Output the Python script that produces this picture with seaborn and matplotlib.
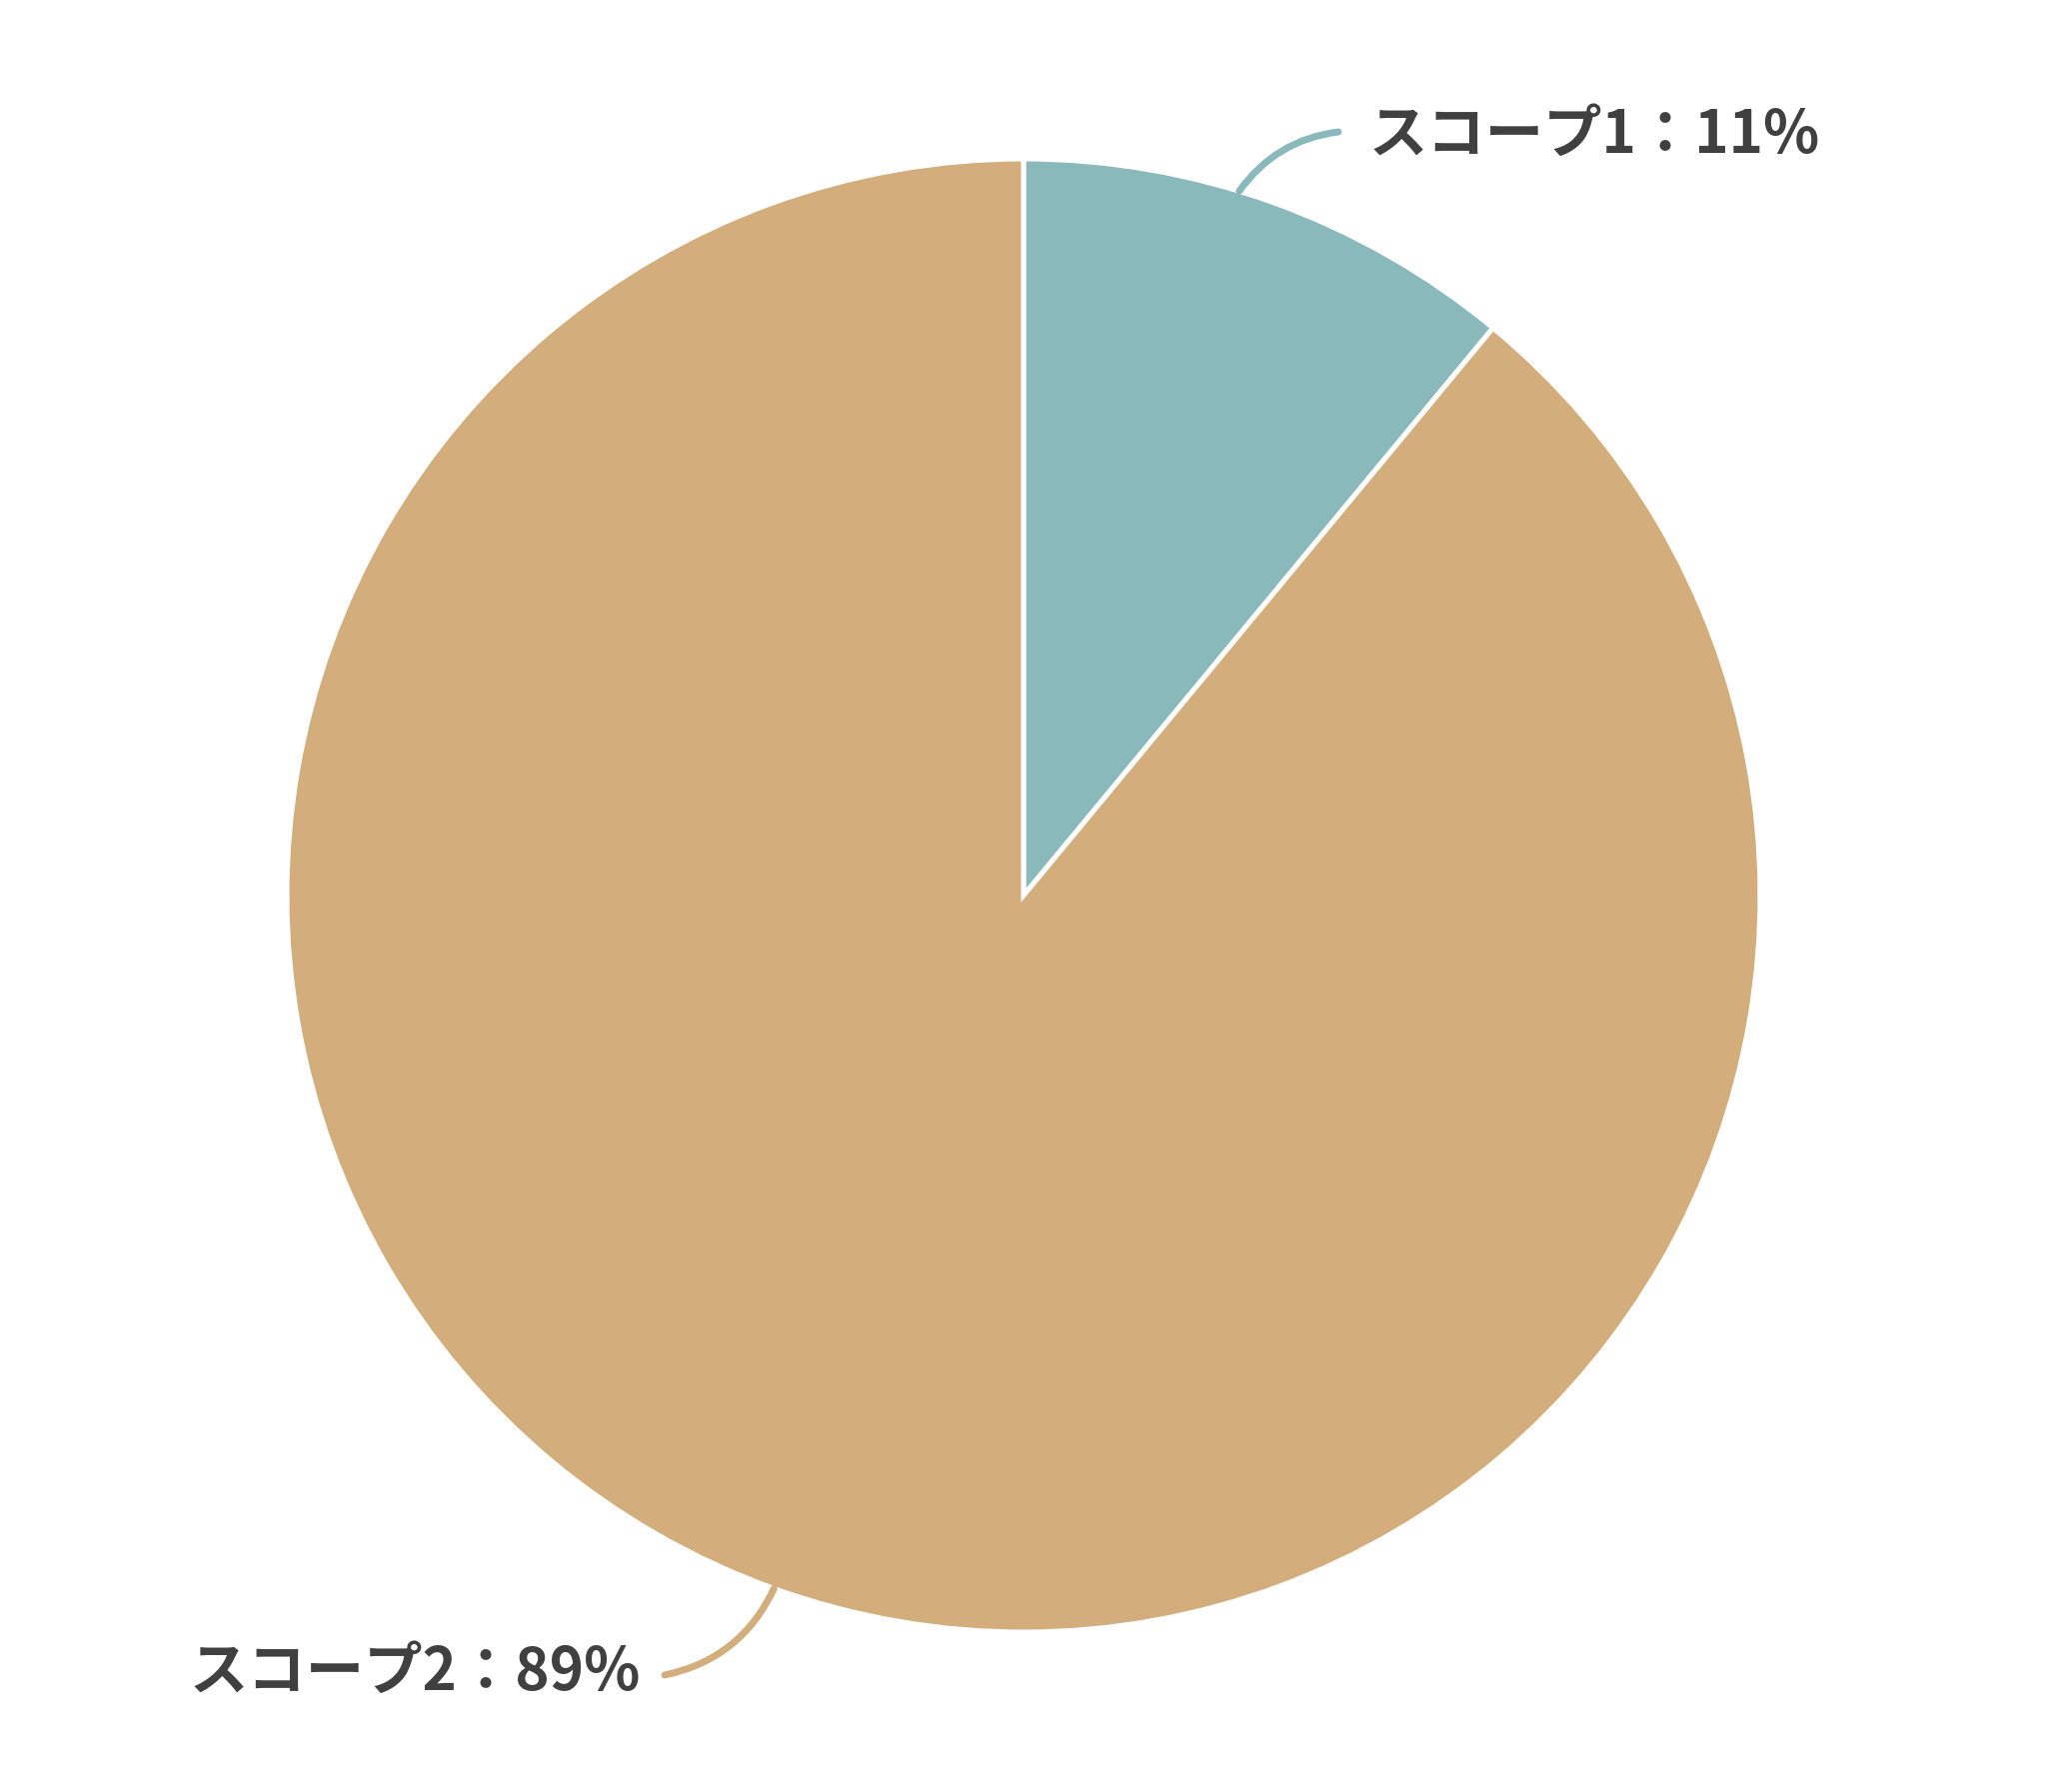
import numpy as np
import matplotlib
matplotlib.use('Agg')
import matplotlib.pyplot as plt
import seaborn as sns

# --- Datos ---
categorias = ['スコープ1', 'スコープ2']
porcentajes = [11, 89]
colores = ['#8ab9bb', '#d3ae7c']

sns.set_theme(style='white')
plt.rcParams['font.family'] = ['Noto Sans CJK JP', 'DejaVu Sans']

W, H = 2048, 1793
fig = plt.figure(figsize=(W / 100, H / 100), dpi=100)
ax = fig.add_axes([0, 0, 1, 1])
ax.set_aspect('equal')
ax.axis('off')

centro = (1024, 897)
radio = 737

wedges, _ = ax.pie(porcentajes, colors=colores, startangle=90, counterclock=False,
                   center=centro, radius=radio,
                   wedgeprops=dict(edgecolor='white', linewidth=3.6))
ax.set_xlim(0, W)
ax.set_ylim(0, H)

# etiquetas con línea curva
conf = [
    # (fraccion del arco, fin de linea, posicion texto, alineacion, rad)
    (0.57, (1339, 1661), (1370, 1657), 'left', 0.22),
    (0.5, (665, 117), (641, 119), 'right', 0.25),
]
for w, cat, pct, col, (frac, fin, pos_txt, ha, rad) in zip(wedges, categorias, porcentajes, colores, conf):
    ang = np.deg2rad(w.theta1 + frac * (w.theta2 - w.theta1))
    px = centro[0] + radio * np.cos(ang)
    py = centro[1] + radio * np.sin(ang)
    ax.annotate('', xy=(px, py), xytext=fin,
                arrowprops=dict(arrowstyle='-', color=col, lw=5,
                                connectionstyle=f'arc3,rad={rad}',
                                shrinkA=0, shrinkB=0))
    ax.text(pos_txt[0], pos_txt[1], f'{cat}：{pct}%', ha=ha, va='center',
            fontsize=42, fontweight='bold', color='#404040')

plt.savefig('out.png', dpi=100, facecolor='white')
